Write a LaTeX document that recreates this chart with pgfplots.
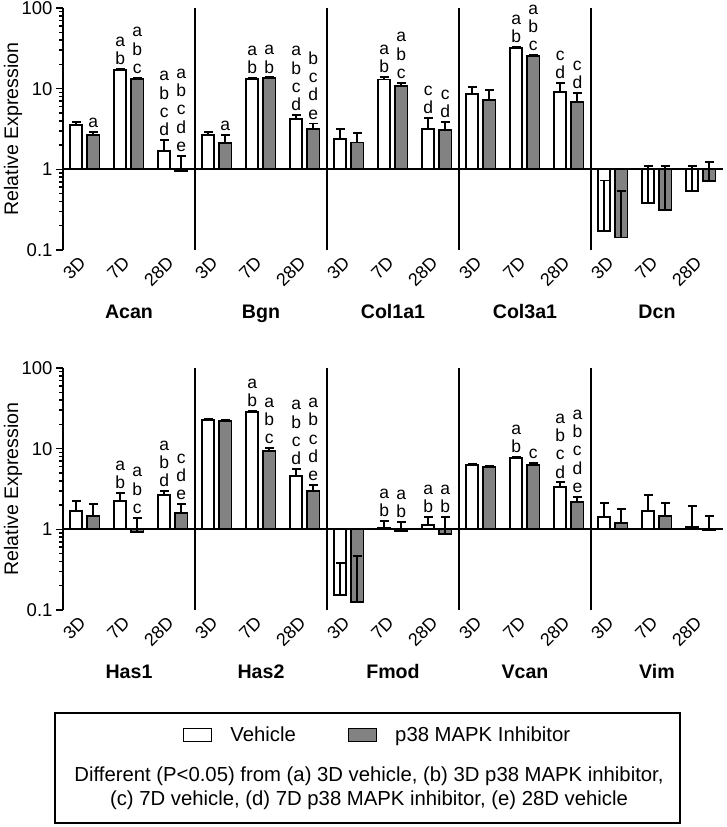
\documentclass[border=0pt]{standalone}
\usepackage{fontspec}
\setmainfont{Liberation Sans}
\usepackage{pgfplots}
\usepackage{pgfplotstable}
\pgfplotsset{compat=1.18}

\definecolor{barg}{RGB}{130,130,130}
\newcommand\labfont{\fontsize{19.6}{22}\selectfont}
\newcommand\genefont{\fontsize{19.6}{22}\selectfont\bfseries}
\newcommand\tickfont{\fontsize{18.5}{20}\selectfont}
\newcommand\xtickfont{\fontsize{18}{20}\selectfont}
\newcommand\letfont{\fontsize{17.5}{18.3}\selectfont}
\newcommand\legfont{\fontsize{20.3}{23.5}\selectfont}

% columns: x position, mean, top of error bar (mean + SD)
\pgfplotstableread{
x y c
0.30 3.55 3.90
1.30 16.9 17.4
2.30 1.69 2.30
3.30 2.66 2.93
4.30 13.2 13.5
5.30 4.2 4.7
6.30 2.37 3.16
7.30 12.96 13.96
8.30 3.13 4.37
9.30 8.58 10.48
10.30 32.2 33.0
11.30 9.08 11.78
12.30 0.173 0.729
13.30 0.379 1.099
14.30 0.541 1.101
}\topW
\pgfplotstableread{
x y c
0.69 2.66 2.93
1.69 13.3 13.6
2.69 0.96 1.47
3.69 2.13 2.66
4.69 13.5 13.8
5.69 3.16 3.70
6.69 2.15 2.79
7.69 10.9 11.8
8.69 3.07 3.83
9.69 7.29 9.69
10.69 25.4 26.0
11.69 6.81 8.81
12.69 0.143 0.533
13.69 0.316 1.096
14.69 0.714 1.224
}\topG
\pgfplotstableread{
x y c
0.30 1.69 2.24
1.30 2.26 2.84
2.30 2.64 2.96
3.30 22.6 23.2
4.30 28.7 29.5
5.30 4.62 5.59
6.30 0.153 0.379
7.30 1.03 1.28
8.30 1.12 1.43
9.30 6.21 6.41
10.30 7.59 7.84
11.30 3.37 3.82
12.30 1.41 2.10
13.30 1.69 2.69
14.30 1.07 1.94
}\botW
\pgfplotstableread{
x y c
0.69 1.47 2.08
1.69 0.92 1.39
2.69 1.59 2.06
3.69 22.0 22.6
4.69 9.35 10.1
5.69 2.98 3.54
6.69 0.127 0.467
7.69 0.95 1.24
8.69 0.88 1.42
9.69 5.87 6.07
10.69 6.27 6.70
11.69 2.16 2.54
12.69 1.21 1.77
13.69 1.46 2.10
14.69 0.99 1.46
}\botG

% letters above a bar: x, top of error bar, text
\newcommand\sig[3]{\node[anchor=south, align=center, font=\letfont, inner sep=0pt, yshift=4pt] at (axis cs:#1,#2) {#3};}
% gene name under a group, on a common baseline
\newcommand\gene[2]{\node[font=\genefont, anchor=base, inner sep=0pt, yshift=-68pt] at (axis cs:#1,0.1) {#2};}

\begin{document}
\begin{tikzpicture}

% ---------------- top panel ----------------
\begin{axis}[
    at={(63pt,-250pt)}, anchor=south west,
    scale only axis, width=660pt, height=242pt,
    xmin=0, xmax=15, ymin=0.1, ymax=100,
    ymode=log, log origin y=0,
    axis x line*=bottom, axis y line*=left,
    x axis line style={draw=none},
    y axis line style={line width=1.8pt},
    xtick={0.5,1.5,2.5,3.5,4.5,5.5,6.5,7.5,8.5,9.5,10.5,11.5,12.5,13.5,14.5},
    xticklabels={3D,7D,28D,3D,7D,28D,3D,7D,28D,3D,7D,28D,3D,7D,28D},
    xtick style={draw=none},
    xticklabel style={font=\xtickfont, rotate=45, anchor=east},
    ytick={0.1,1,10,100}, yticklabels={0.1,1,10,100},
    minor ytick={0.2,0.3,0.4,0.5,0.6,0.7,0.8,0.9,2,3,4,5,6,7,8,9,20,30,40,50,60,70,80,90},
    yticklabel style={font=\tickfont},
    tick align=outside,
    major tick length=7pt, minor tick length=4pt,
    ytick style={line width=1.5pt, black},
    clip=false,
  ]
  \addplot[ybar, bar width=0.28, bar shift=0pt, draw=black, fill=white, line width=1.8pt]
    table[x=x, y=y] {\topW};
  \addplot[ybar, bar width=0.28, bar shift=0pt, draw=black, fill=barg, line width=1.8pt]
    table[x=x, y=y] {\topG};
  % error bars (mean to mean+SD)
  \addplot[black, line width=1.8pt, mark=none, unbounded coords=jump] coordinates {
    (0.30,3.55) (0.30,3.90) (0.30,nan) (1.30,16.9) (1.30,17.4) (1.30,nan)
    (2.30,1.69) (2.30,2.30) (2.30,nan) (3.30,2.66) (3.30,2.93) (3.30,nan)
    (4.30,13.2) (4.30,13.5) (4.30,nan) (5.30,4.2) (5.30,4.7) (5.30,nan)
    (6.30,2.37) (6.30,3.16) (6.30,nan) (7.30,12.96) (7.30,13.96) (7.30,nan)
    (8.30,3.13) (8.30,4.37) (8.30,nan) (9.30,8.58) (9.30,10.48) (9.30,nan)
    (10.30,32.2) (10.30,33.0) (10.30,nan) (11.30,9.08) (11.30,11.78) (11.30,nan)
    (12.30,0.173) (12.30,0.729) (12.30,nan) (13.30,0.379) (13.30,1.099) (13.30,nan)
    (14.30,0.541) (14.30,1.101) (14.30,nan)
    (0.69,2.66) (0.69,2.93) (0.69,nan) (1.69,13.3) (1.69,13.6) (1.69,nan)
    (2.69,0.96) (2.69,1.47) (2.69,nan) (3.69,2.13) (3.69,2.66) (3.69,nan)
    (4.69,13.5) (4.69,13.8) (4.69,nan) (5.69,3.16) (5.69,3.70) (5.69,nan)
    (6.69,2.15) (6.69,2.79) (6.69,nan) (7.69,10.9) (7.69,11.8) (7.69,nan)
    (8.69,3.07) (8.69,3.83) (8.69,nan) (9.69,7.29) (9.69,9.69) (9.69,nan)
    (10.69,25.4) (10.69,26.0) (10.69,nan) (11.69,6.81) (11.69,8.81) (11.69,nan)
    (12.69,0.143) (12.69,0.533) (12.69,nan) (13.69,0.316) (13.69,1.096) (13.69,nan)
    (14.69,0.714) (14.69,1.224)
  };
  % caps
  \addplot[only marks, mark=-, mark size=4.5pt, mark options={line width=1.8pt, black}]
    table[x=x, y=c] {\topW};
  \addplot[only marks, mark=-, mark size=4.5pt, mark options={line width=1.8pt, black}]
    table[x=x, y=c] {\topG};
  \draw[line width=1.8pt] (axis cs:0,1) -- (axis cs:15,1);
  \draw[line width=1.8pt] (axis cs:3,0.1) -- (axis cs:3,100);
  \draw[line width=1.8pt] (axis cs:6,0.1) -- (axis cs:6,100);
  \draw[line width=1.8pt] (axis cs:9,0.1) -- (axis cs:9,100);
  \draw[line width=1.8pt] (axis cs:12,0.1) -- (axis cs:12,100);
  \gene{1.5}{Acan}
  \gene{4.5}{Bgn}
  \gene{7.5}{Col1a1}
  \gene{10.5}{Col3a1}
  \gene{13.5}{Dcn}
  % Acan
  \sig{0.69}{2.93}{a}
  \sig{1.30}{17.4}{a\\b}
  \sig{1.69}{13.6}{a\\b\\c}
  \sig{2.30}{2.30}{a\\b\\c\\d}
  \sig{2.69}{1.47}{a\\b\\c\\d\\e}
  % Bgn
  \sig{3.69}{2.66}{a}
  \sig{4.30}{13.5}{a\\b}
  \sig{4.69}{13.8}{a\\b}
  \sig{5.30}{4.7}{a\\b\\c\\d}
  \sig{5.69}{3.7}{b\\c\\d\\e}
  % Col1a1
  \sig{7.30}{13.96}{a\\b}
  \sig{7.69}{11.8}{a\\b\\c}
  \sig{8.30}{4.37}{c\\d}
  \sig{8.69}{3.83}{c\\d}
  % Col3a1
  \sig{10.30}{33.0}{a\\b}
  \sig{10.69}{26.0}{a\\b\\c}
  \sig{11.30}{11.78}{c\\d}
  \sig{11.69}{8.81}{c\\d}
\end{axis}

% ---------------- bottom panel ----------------
\begin{axis}[
    at={(63pt,-610pt)}, anchor=south west,
    scale only axis, width=660pt, height=242pt,
    xmin=0, xmax=15, ymin=0.1, ymax=100,
    ymode=log, log origin y=0,
    axis x line*=bottom, axis y line*=left,
    x axis line style={draw=none},
    y axis line style={line width=1.8pt},
    xtick={0.5,1.5,2.5,3.5,4.5,5.5,6.5,7.5,8.5,9.5,10.5,11.5,12.5,13.5,14.5},
    xticklabels={3D,7D,28D,3D,7D,28D,3D,7D,28D,3D,7D,28D,3D,7D,28D},
    xtick style={draw=none},
    xticklabel style={font=\xtickfont, rotate=45, anchor=east},
    ytick={0.1,1,10,100}, yticklabels={0.1,1,10,100},
    minor ytick={0.2,0.3,0.4,0.5,0.6,0.7,0.8,0.9,2,3,4,5,6,7,8,9,20,30,40,50,60,70,80,90},
    yticklabel style={font=\tickfont},
    tick align=outside,
    major tick length=7pt, minor tick length=4pt,
    ytick style={line width=1.5pt, black},
    clip=false,
    legend style={at={(axis description cs:0.1818,-0.5165)}, anchor=west,
      draw=none, fill=none, inner sep=0pt, font=\legfont, legend columns=2,
      /tikz/every odd column/.append style={column sep=16pt},
      /tikz/every even column/.append style={column sep=50pt}},
    legend image code/.code={\draw[#1, line width=1.3pt] (0pt,-6.5pt) rectangle (28pt,6.5pt);},
  ]
  \addplot[ybar, bar width=0.28, bar shift=0pt, draw=black, fill=white, line width=1.8pt]
    table[x=x, y=y] {\botW};
  \addlegendentry{Vehicle}
  \addplot[ybar, bar width=0.28, bar shift=0pt, draw=black, fill=barg, line width=1.8pt]
    table[x=x, y=y] {\botG};
  \addlegendentry{p38 MAPK Inhibitor}
  \addplot[black, line width=1.8pt, mark=none, unbounded coords=jump, forget plot] coordinates {
    (0.30,1.69) (0.30,2.24) (0.30,nan) (1.30,2.26) (1.30,2.84) (1.30,nan)
    (2.30,2.64) (2.30,2.96) (2.30,nan) (3.30,22.6) (3.30,23.2) (3.30,nan)
    (4.30,28.7) (4.30,29.5) (4.30,nan) (5.30,4.62) (5.30,5.59) (5.30,nan)
    (6.30,0.153) (6.30,0.379) (6.30,nan) (7.30,1.03) (7.30,1.28) (7.30,nan)
    (8.30,1.12) (8.30,1.43) (8.30,nan) (9.30,6.21) (9.30,6.41) (9.30,nan)
    (10.30,7.59) (10.30,7.84) (10.30,nan) (11.30,3.37) (11.30,3.82) (11.30,nan)
    (12.30,1.41) (12.30,2.10) (12.30,nan) (13.30,1.69) (13.30,2.69) (13.30,nan)
    (14.30,1.07) (14.30,1.94) (14.30,nan)
    (0.69,1.47) (0.69,2.08) (0.69,nan) (1.69,0.92) (1.69,1.39) (1.69,nan)
    (2.69,1.59) (2.69,2.06) (2.69,nan) (3.69,22.0) (3.69,22.6) (3.69,nan)
    (4.69,9.35) (4.69,10.1) (4.69,nan) (5.69,2.98) (5.69,3.54) (5.69,nan)
    (6.69,0.127) (6.69,0.467) (6.69,nan) (7.69,0.95) (7.69,1.24) (7.69,nan)
    (8.69,0.88) (8.69,1.42) (8.69,nan) (9.69,5.87) (9.69,6.07) (9.69,nan)
    (10.69,6.27) (10.69,6.70) (10.69,nan) (11.69,2.16) (11.69,2.54) (11.69,nan)
    (12.69,1.21) (12.69,1.77) (12.69,nan) (13.69,1.46) (13.69,2.10) (13.69,nan)
    (14.69,0.99) (14.69,1.46)
  };
  \addplot[only marks, mark=-, mark size=4.5pt, mark options={line width=1.8pt, black}, forget plot]
    table[x=x, y=c] {\botW};
  \addplot[only marks, mark=-, mark size=4.5pt, mark options={line width=1.8pt, black}, forget plot]
    table[x=x, y=c] {\botG};
  \draw[line width=1.8pt] (axis cs:0,1) -- (axis cs:15,1);
  \draw[line width=1.8pt] (axis cs:3,0.1) -- (axis cs:3,100);
  \draw[line width=1.8pt] (axis cs:6,0.1) -- (axis cs:6,100);
  \draw[line width=1.8pt] (axis cs:9,0.1) -- (axis cs:9,100);
  \draw[line width=1.8pt] (axis cs:12,0.1) -- (axis cs:12,100);
  \gene{1.5}{Has1}
  \gene{4.5}{Has2}
  \gene{7.5}{Fmod}
  \gene{10.5}{Vcan}
  \gene{13.5}{Vim}
  % Has1
  \sig{1.30}{2.84}{a\\b}
  \sig{1.69}{1.39}{a\\b\\c}
  \sig{2.30}{2.96}{a\\b\\d}
  \sig{2.69}{2.06}{c\\d\\e}
  % Has2
  \sig{4.30}{29.5}{a\\b}
  \sig{4.69}{10.1}{a\\b\\c}
  \sig{5.30}{5.59}{a\\b\\c\\d}
  \sig{5.69}{3.54}{a\\b\\c\\d\\e}
  % Fmod
  \sig{7.30}{1.28}{a\\b}
  \sig{7.69}{1.24}{a\\b}
  \sig{8.30}{1.43}{a\\b}
  \sig{8.69}{1.42}{a\\b}
  % Vcan
  \sig{10.30}{7.84}{a\\b}
  \sig{10.69}{6.7}{c}
  \sig{11.30}{3.82}{a\\b\\c\\d}
  \sig{11.69}{2.54}{a\\b\\c\\d\\e}
\end{axis}

% axis titles
\node[rotate=90, font=\labfont] at (13pt,-129pt) {Relative Expression};
\node[rotate=90, font=\labfont] at (13pt,-489pt) {Relative Expression};

% legend frame and footnote
\draw[line width=1.2pt] (55pt,-713pt) rectangle (680pt,-823pt);
\node[align=center, font=\legfont] at (369pt,-788pt)
  {Different (P<0.05) from (a) 3D vehicle, (b) 3D p38 MAPK inhibitor,\\
   (c) 7D vehicle, (d) 7D p38 MAPK inhibitor, (e) 28D vehicle};

\pgfresetboundingbox
\path (0pt,0pt) rectangle (726pt,-827pt);
\end{tikzpicture}
\end{document}
